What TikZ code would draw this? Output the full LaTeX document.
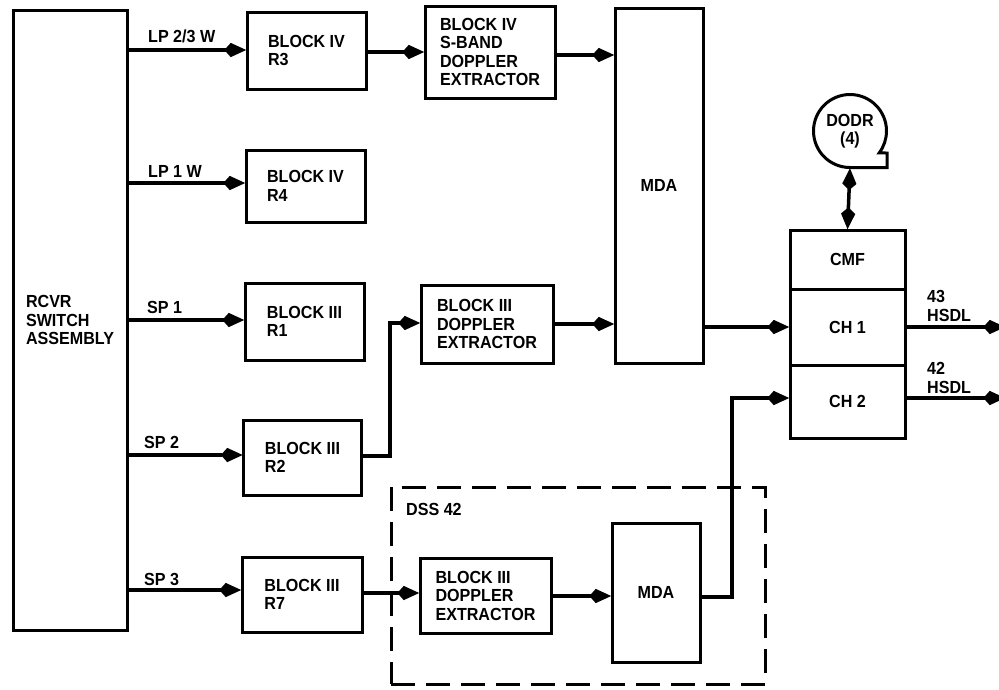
\documentclass[tikz,border=0pt]{standalone}
\usepackage{fontspec}
\newfontfamily\lbl[FakeStretch=0.92]{Liberation Sans}
\usetikzlibrary{arrows.meta,calc}
\newcommand\txt{\lbl\bfseries\fontsize{17.5}{18.5}\selectfont}
\tikzset{
  box/.style={draw, line width=3pt, outer sep=0pt, inner sep=0pt, align=left, font=\txt},
  arr/.style={line width=3.5pt, -{Stealth[length=16pt,width=12pt,inset=-7pt]}},
  dbl/.style={line width=3.5pt, {Stealth[length=16pt,width=12pt,inset=-7pt]}-{Stealth[length=16pt,width=12pt,inset=-7pt]}},
  lab/.style={font=\txt, inner sep=0pt, anchor=base west},
  grp/.style={draw, line width=3pt, dash pattern=on 24pt off 11pt, outer sep=0pt, inner sep=0pt},
}
\begin{document}
\begin{tikzpicture}[x=1pt,y=1pt]
\useasboundingbox (0,0) rectangle (999,-689);
% group box
\node[grp, minimum width=374pt, minimum height=197pt] (dss) at (578,-585.5) {};
\node[lab] (dsslab) at (406,-515) {DSS 42};
% boxes
\node[box, minimum width=114pt, minimum height=620pt] (rcvr) at (70,-320) {RCVR\\SWITCH\\ASSEMBLY};
\node[box, minimum width=119pt, minimum height=77pt] (r3) at (306.5,-50.5) {BLOCK IV\\R3};
\node[box, minimum width=119pt, minimum height=72pt] (r4) at (305.5,-186) {BLOCK IV\\R4};
\node[box, minimum width=119pt, minimum height=77pt] (r1) at (304.5,-321.5) {BLOCK III\\R1};
\node[box, minimum width=118pt, minimum height=75pt] (r2) at (302.5,-457.5) {BLOCK III\\R2};
\node[box, minimum width=120pt, minimum height=75pt] (r7) at (302,-594.5) {BLOCK III\\R7};
\node[box, minimum width=130pt, minimum height=92pt] (ext4) at (490,-52) {BLOCK IV\\S-BAND\\DOPPLER\\EXTRACTOR};
\node[box, minimum width=132pt, minimum height=78pt] (ext3a) at (487,-324) {BLOCK III\\DOPPLER\\EXTRACTOR};
\node[box, minimum width=131pt, minimum height=75pt] (ext3b) at (485.5,-595.5) {BLOCK III\\DOPPLER\\EXTRACTOR};
\node[box, minimum width=88pt, minimum height=355pt] (mda) at (659,-185.5) {MDA};
\node[box, minimum width=88pt, minimum height=139pt] (mda2) at (656,-592.5) {MDA};
\node[box, minimum width=115pt, minimum height=59pt] (cmf) at (847.5,-259.5) {CMF};
\node[box, minimum width=115pt, minimum height=76pt] (ch1) at (847.5,-327) {CH 1};
\node[box, minimum width=115pt, minimum height=73pt] (ch2) at (847.5,-401.5) {CH 2};
% DODR tape symbol
\node[circle, minimum size=73pt, inner sep=0pt, outer sep=0pt, align=center, font=\txt] (dodr) at (850,-131) {DODR\\(4)};
\draw[line width=3pt] (dodr.south) arc[start angle=-90, end angle=-397, radius=36.5pt] -- (887,-153) -- (887,-167.5) -- cycle;
% labels
\node[lab] (l1) at (148,-42) {LP 2/3 W};
\node[lab] (l2) at (148,-177) {LP 1 W};
\node[lab] (l3) at (147,-313) {SP 1};
\node[lab] (l4) at (144,-448) {SP 2};
\node[lab] (l5) at (144,-585) {SP 3};
\node[font=\txt, inner sep=0pt, align=left, anchor=west] (h43) at (927,-306) {43\\HSDL};
\node[font=\txt, inner sep=0pt, align=left, anchor=west] (h42) at (927,-378) {42\\HSDL};
% connectors
\draw[arr] (rcvr.east |- 0,-50) -- (r3.west |- 0,-50);
\draw[arr] (rcvr.east |- 0,-183) -- (r4.west |- 0,-183);
\draw[arr] (rcvr.east |- 0,-320) -- (r1.west |- 0,-320);
\draw[arr] (rcvr.east |- 0,-455) -- (r2.west |- 0,-455);
\draw[arr] (rcvr.east |- 0,-590) -- (r7.west |- 0,-590);
\draw[arr] (r3.east |- 0,-52) -- (ext4.west |- 0,-52);
\draw[arr] (ext4.east |- 0,-55) -- (mda.west |- 0,-55);
\coordinate (f1) at (390,-323);
\draw[arr] (r2.east |- 0,-456) -| (f1) -- (ext3a.west |- f1);
\draw[arr] (ext3a.east |- 0,-324) -- (mda.west |- 0,-324);
\draw[arr] (r7.east |- 0,-593) -- (ext3b.west |- 0,-593);
\draw[arr] (ext3b.east |- 0,-596) -- (mda2.west |- 0,-596);
\draw[arr] (mda.east |- ch1.west) -- (ch1.west);
\coordinate (j2) at (732,-398);
\draw[arr] (mda2.east |- 0,-597) -| (j2) -- (ch2.west |- j2);
\draw[dbl] (dodr.south) -- (cmf.north);
\coordinate (o1) at (1006,-327);
\coordinate (o2) at (1006,-398);
\draw[arr] (ch1.east) -- (o1);
\draw[arr] (ch2.east |- o2) -- (o2);
\end{tikzpicture}
\end{document}
